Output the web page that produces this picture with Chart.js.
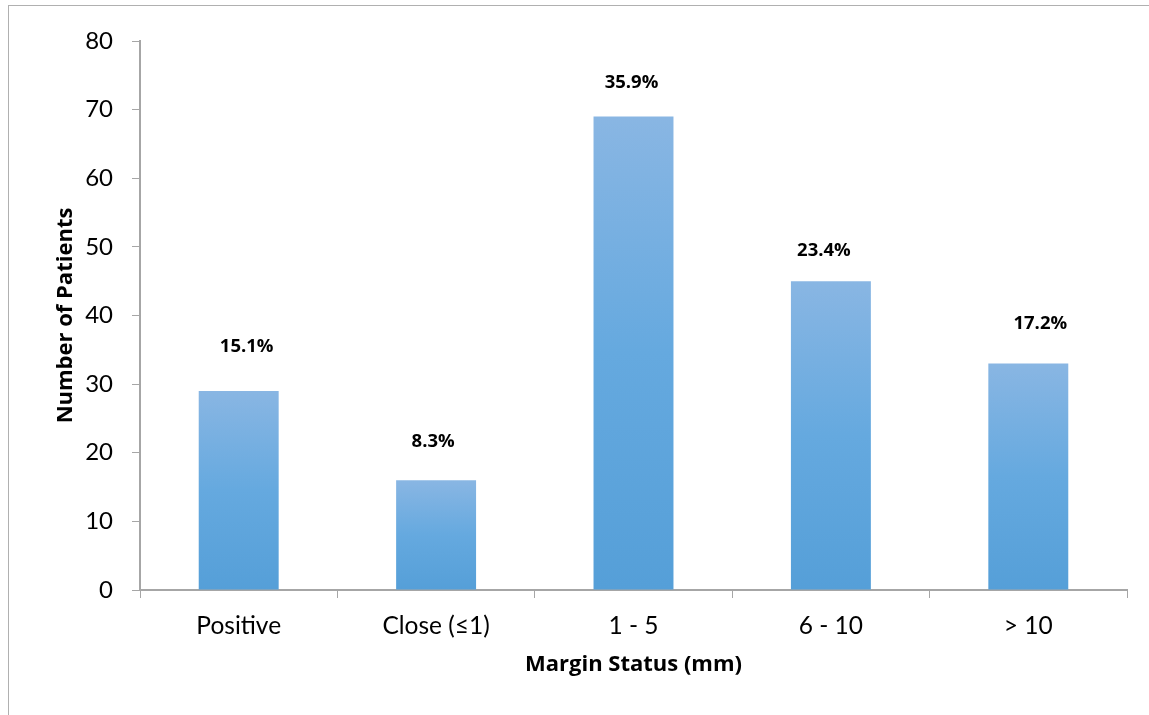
<!DOCTYPE html>
<html>
<head>
<meta charset="utf-8">
<script src="https://cdn.jsdelivr.net/npm/chart.js@4"></script>
<style>
  body { margin: 0; background: #fff; overflow: hidden; }
  #frame { position: absolute; left: 8px; top: 5px; width: 1141px; height: 710px; border: 1px solid #b0b0b0; }
</style>
</head>
<body>
<div id="frame"><canvas id="myChart" width="1141" height="710"></canvas></div>
<script>
const categories = ['Positive', 'Close (\u22641)', '1 - 5', '6 - 10', '> 10'];
const patients = [29, 16, 69, 45, 33];
const pctLabels = ['15.1%', '8.3%', '35.9%', '23.4%', '17.2%'];
const yTicks = [0, 10, 20, 30, 40, 50, 60, 70, 80];

// label placement (px from bar top centre), labels were hand placed in the original
const labelDx = [8, -3, -2, -7, 12];
const labelDy = [44, 38, 34, 30, 40];

const FONT = 'Lato, "Open Sans", sans-serif';
const BOLD = '"Open Sans", Lato, sans-serif';
const AXIS = '#a6a6a6';

// gradient per bar, lighter on top
function barFill(c) {
    const chart = c.chart;
    if (c.type !== 'data' || !chart.chartArea) return '#5fa3da';
    const y = chart.scales.y;
    const top = y.getPixelForValue(c.raw);
    const bot = y.getPixelForValue(0);
    const g = chart.ctx.createLinearGradient(0, top, 0, bot);
    g.addColorStop(0, '#89b6e3');
    g.addColorStop(0.5, '#65a9df');
    g.addColorStop(1, '#559fd8');
    return g;
}

const pctPlugin = {
    id: 'pctLabels',
    afterDatasetsDraw(chart) {
        const ctx = chart.ctx;
        const meta = chart.getDatasetMeta(0);
        ctx.save();
        ctx.font = 'bold 18.5px ' + BOLD;
        ctx.fillStyle = '#000';
        ctx.textAlign = 'center';
        ctx.textBaseline = 'middle';
        meta.data.forEach(function(bar, i){
            ctx.fillText(pctLabels[i], bar.x + labelDx[i], bar.y - labelDy[i]);
        });
        ctx.restore();
    }
};

const chart = new Chart(document.getElementById('myChart').getContext('2d'), {
    type: 'bar',
    data: {
        labels: categories,
        datasets: [{
            data: patients,
            backgroundColor: barFill,
            borderWidth: 0,
            barPercentage: 0.405,
            categoryPercentage: 1
        }]
    },
    options: {
        responsive: false,
        animation: false,
        layout: { padding: { top: 35, right: 23, left: 0, bottom: 0 } },
        plugins: { legend: { display: false }, tooltip: { enabled: false } },
        scales: {
            x: {
                grid: { display: true, drawOnChartArea: false, offset: true, color: AXIS, tickLength: 8 },
                border: { color: AXIS, width: 2 },
                ticks: { color: '#000', font: { family: FONT, size: 24.5 }, padding: 13, maxRotation: 0 },
                title: { display: true, text: 'Margin Status (mm)', color: '#000',
                         font: { family: BOLD, size: 22, weight: 'bold' }, padding: { top: 0, bottom: 38 } },
                afterFit(scale) { scale.height = 126; }
            },
            y: {
                min: 0, max: 80,
                afterBuildTicks(scale) { scale.ticks = yTicks.map(v => ({ value: v })); },
                grid: { display: true, drawOnChartArea: false, color: AXIS, tickLength: 8 },
                border: { color: AXIS, width: 2 },
                ticks: { color: '#000', font: { family: FONT, size: 24 }, padding: 19 },
                title: { display: true, text: 'Number of Patients', color: '#000',
                         font: { family: BOLD, size: 22, weight: 'bold' }, padding: { top: 44, bottom: 0 } },
                afterFit(scale) { scale.width = 131; }
            }
        }
    },
    plugins: [pctPlugin]
});
</script>
</body>
</html>
